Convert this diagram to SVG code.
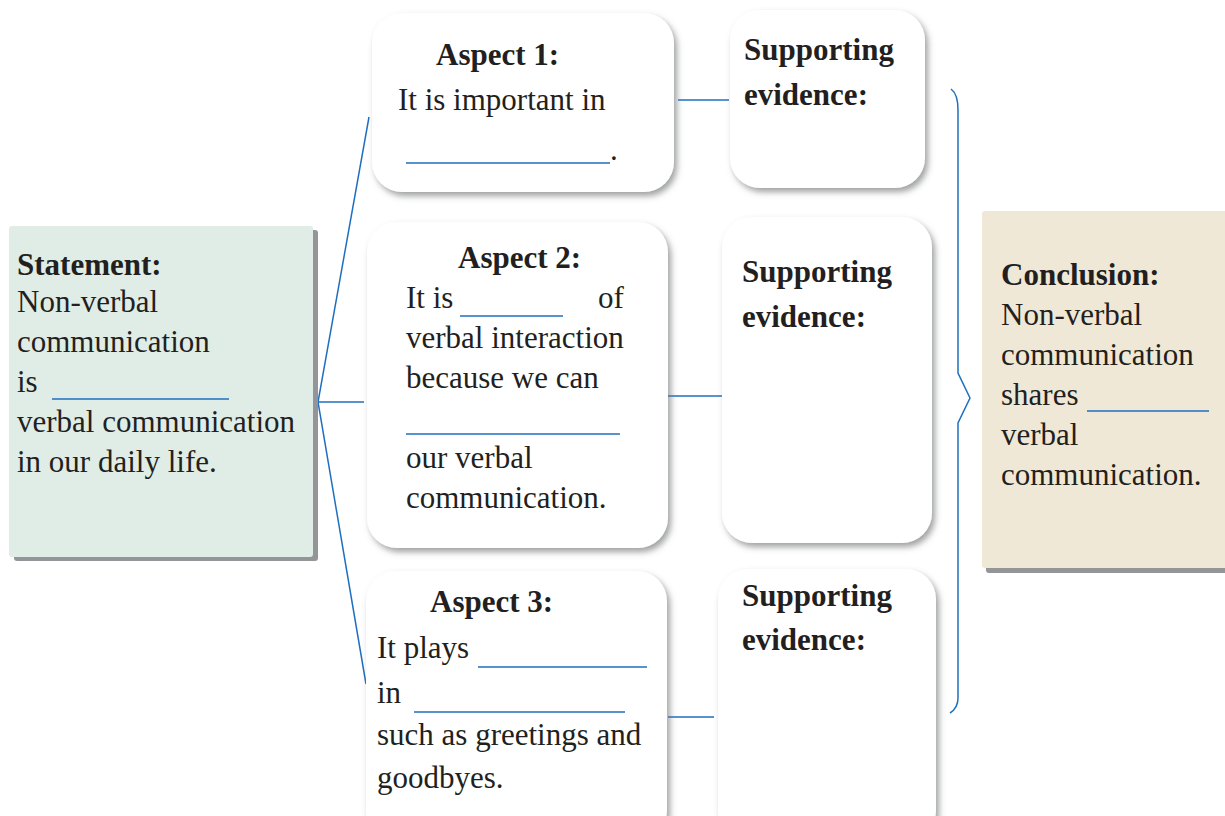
<svg xmlns="http://www.w3.org/2000/svg" width="1225" height="816" viewBox="0 0 1225 816">
<defs>
<filter id="sh" x="-10%" y="-10%" width="125%" height="125%">
<feDropShadow dx="3" dy="4" stdDeviation="3" flood-color="#6d6e71" flood-opacity="0.65"/>
</filter>
<style>
text{font-family:"Liberation Serif","Times New Roman",serif;font-size:31px;fill:#231f20}
.b{font-weight:bold}
.card{fill:#ffffff;filter:url(#sh)}
.blank{stroke:#1f6fbf;stroke-width:1.5;fill:none}
.conn{stroke:#1f6fbf;stroke-width:1.5;fill:none}
</style>
</defs>
<rect width="1225" height="816" fill="#ffffff"/>

<g id="connectors">
<polyline class="conn" points="369,117 318,402 366,684"/>
<line class="conn" x1="318" y1="402" x2="364" y2="402"/>
<line class="conn" x1="678" y1="100" x2="729" y2="100"/>
<line class="conn" x1="668" y1="396" x2="722" y2="396"/>
<line class="conn" x1="668" y1="717" x2="714" y2="717"/>
<path class="conn" d="M951,89 Q958,94 958,110 L958,373 L970,398 L958,423 L958,698 Q958,708 950,713"/>
</g>

<g id="statement">
<rect x="14" y="230" width="304" height="331" rx="3" fill="#939598"/>
<rect x="9" y="226" width="304" height="331" rx="3" fill="#e0ede6"/>
<text class="b" x="17" y="275">Statement:</text>
<text x="17" y="312">Non-verbal</text>
<text x="17" y="352">communication</text>
<text x="17" y="392">is</text>
<line class="blank" x1="52" y1="399" x2="229" y2="399"/>
<text x="17" y="432">verbal communication</text>
<text x="17" y="472">in our daily life.</text>
</g>

<g id="aspect1">
<rect class="card" x="372" y="13" width="302" height="179" rx="30"/>
<text class="b" x="436" y="65">Aspect 1:</text>
<text x="398" y="110">It is important in</text>
<line class="blank" x1="406" y1="163" x2="610" y2="163"/>
<text x="610" y="160">.</text>
</g>

<g id="evidence1">
<rect class="card" x="730" y="10" width="195" height="178" rx="30"/>
<text class="b" x="744" y="60">Supporting</text>
<text class="b" x="744" y="105">evidence:</text>
</g>

<g id="aspect2">
<rect class="card" x="367" y="222" width="301" height="326" rx="30"/>
<text class="b" x="458" y="268">Aspect 2:</text>
<text x="406" y="308">It is</text>
<line class="blank" x1="460" y1="316" x2="563" y2="316"/>
<text x="598" y="308">of</text>
<text x="406" y="348">verbal interaction</text>
<text x="406" y="388">because we can</text>
<line class="blank" x1="406" y1="434" x2="620" y2="434"/>
<text x="406" y="468">our verbal</text>
<text x="406" y="508">communication.</text>
</g>

<g id="evidence2">
<rect class="card" x="722" y="217" width="210" height="326" rx="30"/>
<text class="b" x="742" y="282">Supporting</text>
<text class="b" x="742" y="327">evidence:</text>
</g>

<g id="aspect3">
<rect class="card" x="366" y="571" width="301" height="270" rx="30"/>
<text class="b" x="430" y="612">Aspect 3:</text>
<text x="377" y="658">It plays</text>
<line class="blank" x1="478" y1="667" x2="647" y2="667"/>
<text x="377" y="703">in</text>
<line class="blank" x1="414" y1="712" x2="625" y2="712"/>
<text x="377" y="745">such as greetings and</text>
<text x="377" y="788">goodbyes.</text>
</g>

<g id="evidence3">
<rect class="card" x="718" y="569" width="218" height="272" rx="30"/>
<text class="b" x="742" y="606">Supporting</text>
<text class="b" x="742" y="650">evidence:</text>
</g>

<g id="conclusion">
<rect x="986" y="215" width="245" height="358" rx="3" fill="#939598"/>
<rect x="982" y="211" width="250" height="357" rx="3" fill="#f0e8d6"/>
<text class="b" x="1001" y="285">Conclusion:</text>
<text x="1001" y="325">Non-verbal</text>
<text x="1001" y="365">communication</text>
<text x="1001" y="405">shares</text>
<line class="blank" x1="1087" y1="411" x2="1209" y2="411"/>
<text x="1001" y="445">verbal</text>
<text x="1001" y="485">communication.</text>
</g>
</svg>
